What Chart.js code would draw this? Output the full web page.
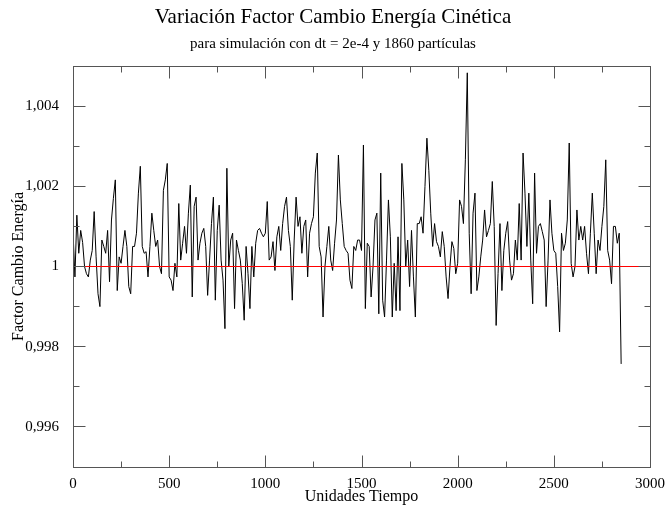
<!DOCTYPE html>
<html lang="es">
<head>
<meta charset="utf-8">
<title>Variación Factor Cambio Energía Cinética</title>
<script src="https://cdn.jsdelivr.net/npm/chart.js@4.4.1/dist/chart.umd.min.js"></script>
<style>
    html, body { margin: 0; padding: 0; background: #fff; }
    #grafico-box { position: relative; width: 666px; height: 507px; }
</style>
</head>
<body>
<div id="grafico-box"><canvas id="grafico"></canvas></div>
<script>
// muestras cada 10 unidades de tiempo
const PASO = 10;
const factor = [
    1.00087, 0.99974, 1.00128, 1.00033, 1.0009, 1.0006, 1, 0.99982, 0.99974, 1.00016,
    1.0004, 1.00137, 1.00024, 0.99932, 0.999, 1.00066, 1.0005, 1.00033, 1.0009, 0.99962,
    1.00116, 1.0017, 1.00216, 0.9994, 1.00024, 1.00008, 1.0005, 1.0009, 1.0005, 0.9995,
    0.99932, 1.0005, 1.0005, 1.00083, 1.00183, 1.0025, 1.0005, 1.00033, 1.00037, 0.99974,
    1.0005, 1.00133, 1.0009, 1.0005, 1.00066, 1, 0.99982, 1.0019, 1.00216, 1.00257,
    0.99974, 0.99966, 0.9994, 1.00008, 0.99974, 1.00157, 1.00016, 1.00058, 1.001, 1.00033,
    1.00133, 1.00203, 0.99924, 1.0015, 1.00173, 1.00016, 1.00058, 1.00083, 1.00095, 1.0005,
    0.99928, 1.00016, 1.00107, 1.00173, 0.99916, 1.0009, 1.00153, 1.00016, 0.99966, 0.99845,
    1.00245, 1, 1.00066, 1.00083, 0.99895, 1.00066, 1.0004, 1.00016, 0.99958, 0.99866,
    1.0005, 0.99982, 0.99895, 1.0005, 0.99974, 1.00058, 1.0009, 1.00095, 1.00083, 1.00074,
    1.00083, 1.00162, 1.00016, 1.00024, 1.00062, 0.9999, 1.00074, 1.001, 1.0004, 1.00107,
    1.0015, 1.00173, 1.0009, 1.0005, 0.99916, 1.00066, 1.00173, 1.001, 1.00124, 1.00033,
    1.001, 1.00116, 0.99974, 1.00083, 1.00107, 1.00124, 1.00233, 1.00283, 1.0005, 1.00024,
    0.99874, 1, 1.0005, 1.001, 1.00016, 0.9999, 1.00058, 1.00116, 1.00278, 1.00166,
    1.00107, 1.0005, 1.0004, 1.00033, 0.99966, 0.99945, 1.0005, 1.0004, 1.00066, 1.00066,
    1.0004, 1.00303, 0.99895, 1.00058, 1.0005, 0.99924, 1, 1.00116, 1.00133, 0.99882,
    1.00233, 0.99916, 0.99874, 1.00016, 1.00166, 1.00074, 0.99874, 1.00008, 0.9989, 1.00074,
    0.9989, 1.00257, 1.00166, 1, 1.00066, 0.9995, 1.0009, 0.99974, 0.99874, 1.00107,
    1.00107, 1.00124, 1.00083, 1.002, 1.0032, 1.0024, 1.00133, 1.0005, 1.00107, 1.00062,
    1.0005, 1.00024, 1.00087, 1.0005, 0.99974, 0.9992, 1, 1.00062, 1.00045, 0.99982,
    1.00008, 1.00166, 1.0015, 1.00107, 1.00266, 1.00483, 1.00083, 0.99932, 1.00133, 1.00183,
    0.9994, 0.99974, 1.00024, 1.00066, 1.00141, 1.00074, 1.0009, 1.00107, 1.00212, 1.001,
    0.99853, 0.99982, 1.00107, 0.9994, 1.0004, 1.00083, 1.00112, 1.00016, 0.99966, 0.99982,
    1.00066, 1.00016, 1.00157, 1.00016, 1.00283, 1.00183, 1.0005, 1.00183, 1.00016, 0.99907,
    1.00233, 1.00033, 1.001, 1.00107, 1.00087, 1.00066, 0.999, 1.00016, 1.00166, 1.00083,
    1.0004, 1.00033, 0.9995, 0.99837, 1.00083, 1.0004, 1.00058, 1.00116, 1.00308, 1.00008,
    0.99974, 1, 1.00141, 1.00066, 1.001, 1.00066, 1.001, 1.00033, 0.99982, 1.00083,
    1.00183, 1.00083, 0.99982, 1.00066, 1.0004, 1.001, 1.0015, 1.00266, 1.0004, 1.00016,
    0.99957, 1.001, 1.001, 1.00058, 1.00083, 0.99757
];
const tiempo = factor.map((_, i) => i * PASO);

// linea de referencia (factor = 1)
const referenciaX = [0, 3000];
const referenciaY = [1, 1];

const xMayores = [0, 500, 1000, 1500, 2000, 2500, 3000];
const xMenores = [250, 750, 1250, 1750, 2250, 2750];
const yMayores = [0.996, 0.998, 1, 1.002, 1.004];
const yMenores = [0.995, 0.997, 0.999, 1.001, 1.003, 1.005];

const FUENTE = "'Liberation Serif', 'DejaVu Serif', serif";

// marco y marcas hacia dentro en los cuatro lados
const marcoPlugin = {
    id: 'marco',
    afterDatasetsDraw(chart) {
        const { ctx, chartArea: a, scales: { x, y } } = chart;
        const izq = Math.round(a.left) + 0.5;
        const der = Math.round(a.right) + 0.5;
        const sup = Math.round(a.top) + 0.5;
        const inf = Math.round(a.bottom) + 0.5;
        ctx.save();
        ctx.strokeStyle = '#555';
        ctx.lineWidth = 1;
        ctx.beginPath();
        const marcaX = (v, len) => {
            const px = Math.round(x.getPixelForValue(v)) + 0.5;
            ctx.moveTo(px, inf); ctx.lineTo(px, inf - len);
            ctx.moveTo(px, sup); ctx.lineTo(px, sup + len);
        };
        const marcaY = (v, len) => {
            const py = Math.floor(y.getPixelForValue(v)) + 0.5;
            ctx.moveTo(izq, py); ctx.lineTo(izq + len, py);
            ctx.moveTo(der, py); ctx.lineTo(der - len, py);
        };
        xMayores.forEach(v => marcaX(v, 12));
        xMenores.forEach(v => marcaX(v, 6));
        yMayores.forEach(v => marcaY(v, 12));
        yMenores.forEach(v => marcaY(v, 6));
        ctx.stroke();
        ctx.strokeRect(izq, sup, der - izq, inf - sup);
        ctx.restore();
    }
};

new Chart(document.getElementById('grafico').getContext('2d'), {
    type: 'line',
    data: {
        datasets: [
            {
                label: 'Factor',
                data: tiempo.map((t, i) => ({ x: t, y: factor[i] })),
                borderColor: '#000000',
                borderWidth: 1,
                pointRadius: 0,
                tension: 0,
                order: 2
            },
            {
                label: 'Referencia',
                data: referenciaX.map((v, i) => ({ x: v, y: referenciaY[i] })),
                borderColor: '#ff0000',
                borderWidth: 1,
                pointRadius: 0,
                order: 1
            }
        ]
    },
    options: {
        responsive: true,
        maintainAspectRatio: false,
        animation: false,
        devicePixelRatio: 1,
        layout: { padding: 0 },
        plugins: {
            legend: { display: false },
            tooltip: { enabled: false },
            title: {
                display: true,
                text: 'Variación Factor Cambio Energía Cinética',
                color: '#000',
                font: { family: FUENTE, size: 21, weight: 'normal' },
                padding: { top: 5, bottom: 3 }
            },
            subtitle: {
                display: true,
                text: 'para simulación con dt = 2e-4 y 1860 partículas',
                color: '#000',
                font: { family: FUENTE, size: 15, weight: 'normal' },
                padding: { top: 2, bottom: 12.8 }
            }
        },
        scales: {
            x: {
                type: 'linear',
                min: 0,
                max: 3000,
                afterBuildTicks: s => { s.ticks = xMayores.map(v => ({ value: v })); },
                afterFit: s => { s.height = 40; s.paddingRight = 16; s.paddingLeft = 0; },
                ticks: {
                    callback: v => String(v),
                    color: '#000',
                    font: { family: FUENTE, size: 15 },
                    padding: 0,
                    maxRotation: 0,
                    autoSkip: false
                },
                grid: { display: false },
                border: { display: false },
                title: {
                    display: true,
                    text: 'Unidades Tiempo',
                    color: '#000',
                    font: { family: FUENTE, size: 16 },
                    padding: { top: 0, bottom: 1 }
                }
            },
            y: {
                type: 'linear',
                min: 0.995,
                max: 1.005,
                afterBuildTicks: s => { s.ticks = yMayores.map(v => ({ value: v })); },
                afterFit: s => { s.width = 73; },
                ticks: {
                    callback: v => String(v).replace('.', ','),
                    color: '#000',
                    font: { family: FUENTE, size: 15 },
                    padding: 6
                },
                grid: { display: false },
                border: { display: false },
                title: {
                    display: true,
                    text: 'Factor Cambio Energía',
                    color: '#000',
                    font: { family: FUENTE, size: 16 },
                    padding: { top: 9, bottom: 0 }
                }
            }
        }
    },
    plugins: [marcoPlugin]
});
</script>
</body>
</html>
